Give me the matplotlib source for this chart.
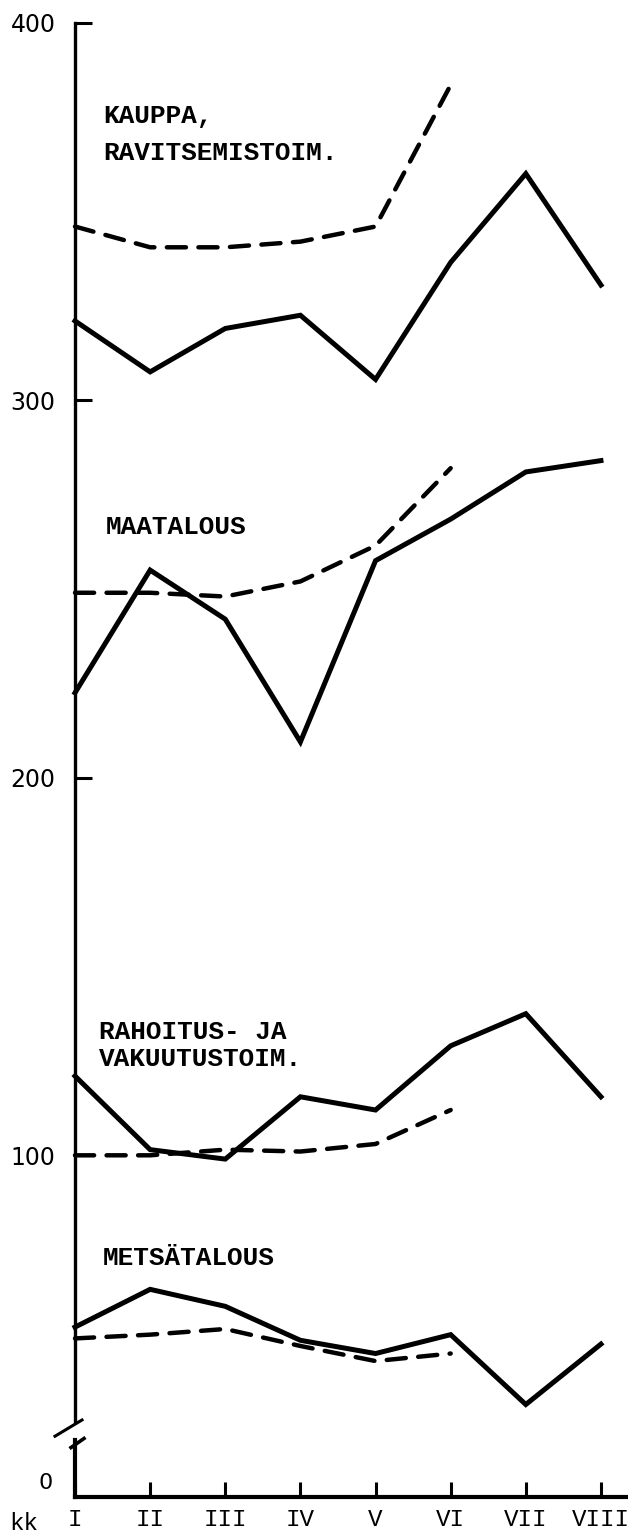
import matplotlib.pyplot as plt

# months on the x axis
months = ['I', 'II', 'III', 'IV', 'V', 'VI', 'VII', 'VIII']
x_all = list(range(len(months)))
x_prev = x_all[:6]

# solid = current year, dashed = previous year
kauppa = [321, 307.5, 319, 322.5, 305.5, 336.5, 360, 330.5]
kauppa_prev = [346, 340.5, 340.5, 342, 346, 383.5]
maatalous = [222.5, 255, 242, 209.5, 257.5, 268.5, 281, 284]
maatalous_prev = [249, 249, 248, 252, 261.5, 282]
rahoitus = [121, 101.5, 99, 115.5, 112, 129, 137.5, 115.5]
rahoitus_prev = [100, 100, 101.5, 101, 103, 112]
metsa = [54.5, 64.5, 60, 51, 47.5, 52.5, 34, 50]
metsa_prev = [51.5, 52.5, 54, 49.5, 45.5, 47.5]

y_ticks = [100, 200, 300, 400]

mono = 'Liberation Mono'

fig = plt.figure(figsize=(6.28, 15.38), dpi=100)
ax = fig.add_axes([75 / 628, 41 / 1538, 553 / 628, 1497 / 1538])

for cur, prev in [(kauppa, kauppa_prev), (maatalous, maatalous_prev),
                  (rahoitus, rahoitus_prev), (metsa, metsa_prev)]:
    ax.plot(x_all, cur, color='black', lw=3.6, solid_joinstyle='miter',
            clip_on=False)
    ax.plot(x_prev, prev, color='black', lw=3.2, dashes=(4.3, 2.8),
            dash_capstyle='round', clip_on=False)

ax.set_xlim(0, 7.36)
ax.set_ylim(9.5, 406)

for s in ['top', 'right', 'left']:
    ax.spines[s].set_visible(False)
ax.spines['bottom'].set_linewidth(3)

# left axis drawn by hand with a break near the bottom
yt = ax.get_yaxis_transform()
ax.plot([0, 0], [29.5, 400], color='black', lw=2.4, transform=yt, clip_on=False)
ax.plot([0, 0], [9.5, 24.5], color='black', lw=3, transform=yt, clip_on=False)
ax.plot([-20 / 553, 7 / 553], [25.6, 29.9], color='black', lw=2.2,
        transform=yt, clip_on=False)
ax.plot([-4 / 553, 9 / 553], [22.6, 25.0], color='black', lw=2.6,
        transform=yt, clip_on=False)

ax.set_yticks(y_ticks)
ax.set_yticklabels([str(v) for v in y_ticks], fontsize=17,
                   family='DejaVu Sans')
ax.tick_params(axis='y', direction='in', length=12, width=2.2, pad=14)
ax.annotate('0', xy=(0, 13.3), xycoords=yt, xytext=(-21, 0),
            textcoords='offset points', ha='center', va='center',
            fontsize=16, family='DejaVu Sans')

ax.set_xticks(x_all)
ax.set_xticklabels(months, fontsize=17.5, family=mono)
ax.tick_params(axis='x', direction='in', length=11, width=2.2, pad=8)
fig.text(24 / 628, 1 - 1524 / 1538, 'kk', ha='center', va='center',
         fontsize=17.5, family=mono)

lab = dict(fontsize=18.8, family=mono, weight='bold', ha='left',
           va='center', color='black')
ax.text(0.37, 375.4, 'KAUPPA,', **lab)
ax.text(0.37, 365.6, 'RAVITSEMISTOIM.', **lab)
ax.text(0.41, 266.4, 'MAATALOUS', **lab)
ax.text(0.32, 132.6, 'RAHOITUS- JA', **lab)
ax.text(0.32, 125.4, 'VAKUUTUSTOIM.', **lab)
ax.text(0.37, 72.9, 'METSÄTALOUS', **lab)

fig.savefig('out.png', dpi=100)
